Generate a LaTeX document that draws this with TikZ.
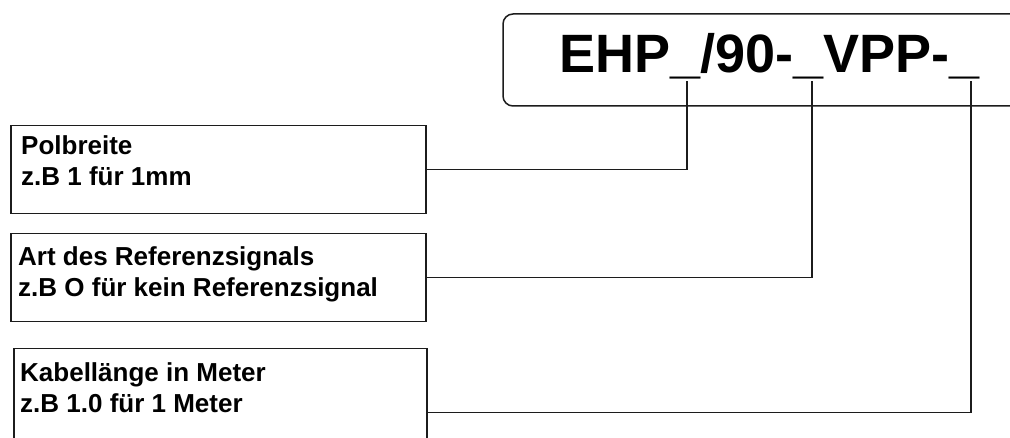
\documentclass[tikz,border=0pt]{standalone}
\usepackage{fontspec}
\setmainfont{Liberation Sans}
\usepackage{xcolor}
\usepackage{tikz}
\usetikzlibrary{positioning,calc}
\definecolor{linegray}{HTML}{1C1C1C}
\tikzset{
  infobox/.style={draw=linegray,line width=1.5pt,anchor=north west,inner sep=0pt,
    minimum height=88pt},
  infotext/.style={anchor=north west,inner sep=0pt,align=left,
    font=\bfseries\fontsize{26}{31}\selectfont},
  codeframe/.style={draw=linegray,line width=1.5pt,rounded corners=10pt},
  leader/.style={draw=linegray,line width=1.5pt}
}

\begin{document}
\begin{tikzpicture}[x=1pt,y=-1pt]
\useasboundingbox (0,0) rectangle (1010,438);
\clip (0,0) rectangle (1010,438);

% type code
\draw[codeframe] (503,14) rectangle (1045,106);
\node[inner sep=0pt, anchor=base west, font=\bfseries\fontsize{54}{60}\selectfont] (code) at (559,73) {EHP\_/90-\_VPP-\_};
\coordinate (u1) at (687,81);
\coordinate (u2) at (812,81);
\coordinate (u3) at (971,81);

% explanation boxes
\node[infobox, minimum width=415pt] (pol) at (10,125) {};
\node[infotext] (poltext) at ([xshift=11pt,yshift=-10pt]pol.north west) {Polbreite\\z.B 1 für 1mm};

\node[infobox, minimum width=415pt] (ref) at (10,233) {};
\node[infotext] (reftext) at ([xshift=8pt,yshift=-13pt]ref.north west) {Art des Referenzsignals\\z.B O für kein Referenzsignal};

\node[infobox, minimum width=413pt, minimum height=128pt] (kab) at (13,348) {};
\node[infotext] (kabtext) at ([xshift=7pt,yshift=-14pt]kab.north west) {Kabellänge in Meter\\z.B 1.0 für 1 Meter};

\draw[leader] (pol.east) -| (u1);
\draw[leader] (ref.east) -| (u2);
\draw[leader] (kab.east) -| (u3);
\end{tikzpicture}
\end{document}
